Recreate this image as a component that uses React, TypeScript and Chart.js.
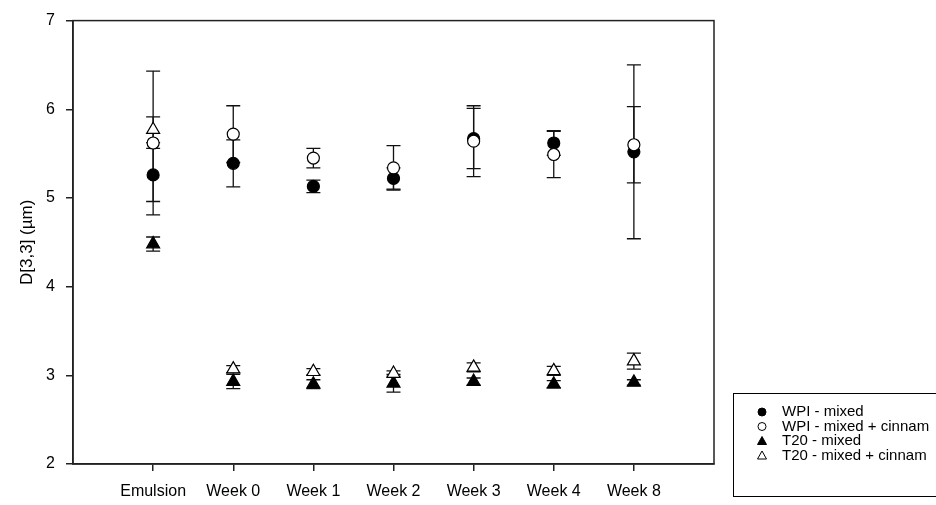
import React, { useEffect, useRef } from "react";
import { Chart, registerables } from "chart.js";

Chart.register(...registerables);

const categories = ["Emulsion", "Week 0", "Week 1", "Week 2", "Week 3", "Week 4", "Week 8"];
const yTicks = [2, 3, 4, 5, 6, 7];

const seriesNames = ["WPI - mixed", "WPI - mixed + cinnam", "T20 - mixed", "T20 - mixed + cinnam"];

const wpiMixed = [5.26, 5.39, 5.13, 5.22, 5.67, 5.62, 5.52];
const wpiMixedErr = [0.3, 0.265, 0.07, 0.12, 0.34, 0.14, 0.98];
const wpiCinnam = [5.62, 5.72, 5.45, 5.34, 5.64, 5.49, 5.6];
const wpiCinnamErr = [0.81, 0.32, 0.11, 0.25, 0.4, 0.26, 0.43];
const t20Mixed = [4.48, 2.93, 2.9, 2.91, 2.93, 2.9, 2.92];
const t20MixedErr = [0.08, 0.08, 0.05, 0.1, 0.04, 0.04, 0.03];
const t20Cinnam = [5.77, 3.07, 3.04, 3.02, 3.09, 3.05, 3.16];
const t20CinnamErr = [0.145, 0.04, 0.035, 0.03, 0.05, 0.05, 0.09];

const FONT = "'Liberation Sans', Arial, Helvetica, sans-serif";

type Spec = { name: string; values: number[]; errs: number[]; style: "circle" | "triangle"; filled: boolean };

const specs: Spec[] = [
  { name: seriesNames[0], values: wpiMixed, errs: wpiMixedErr, style: "circle", filled: true },
  { name: seriesNames[1], values: wpiCinnam, errs: wpiCinnamErr, style: "circle", filled: false },
  { name: seriesNames[2], values: t20Mixed, errs: t20MixedErr, style: "triangle", filled: true },
  { name: seriesNames[3], values: t20Cinnam, errs: t20CinnamErr, style: "triangle", filled: false },
];

const errorBarPlugin = {
  id: "errorBars",
  beforeDatasetsDraw(chart: any) {
    const { ctx, scales } = chart;
    const xs = scales.x;
    const ys = scales.y;
    ctx.save();
    ctx.strokeStyle = "#111";
    ctx.lineWidth = 1.3;
    specs.forEach((s) => {
      s.values.forEach((v, i) => {
        const e = s.errs[i];
        const px = xs.getPixelForValue(i + 1);
        const top = ys.getPixelForValue(v + e);
        const bot = ys.getPixelForValue(v - e);
        ctx.beginPath();
        ctx.moveTo(px, top);
        ctx.lineTo(px, bot);
        ctx.moveTo(px - 7, top);
        ctx.lineTo(px + 7, top);
        ctx.moveTo(px - 7, bot);
        ctx.lineTo(px + 7, bot);
        ctx.stroke();
      });
    });
    ctx.restore();
  },
  afterDraw(chart: any) {
    const { ctx, chartArea } = chart;
    ctx.save();
    ctx.strokeStyle = "#222";
    ctx.lineWidth = 1.5;
    ctx.strokeRect(chartArea.left, chartArea.top, chartArea.right - chartArea.left, chartArea.bottom - chartArea.top);
    ctx.lineWidth = 1;
    ctx.strokeStyle = "#000";
    ctx.strokeRect(733.5, 393.5, 220, 103);
    ctx.font = `15px ${FONT}`;
    ctx.textBaseline = "middle";
    ctx.textAlign = "left";
    specs.forEach((s, i) => {
      const y = 412 + i * 14.5;
      const x = 762;
      ctx.beginPath();
      if (s.style === "circle") {
        ctx.arc(x, y, 4, 0, Math.PI * 2);
      } else {
        ctx.moveTo(x, y - 4.5);
        ctx.lineTo(x + 4.5, y + 3.5);
        ctx.lineTo(x - 4.5, y + 3.5);
        ctx.closePath();
      }
      ctx.fillStyle = s.filled ? "#000" : "#fff";
      ctx.fill();
      ctx.lineWidth = 1;
      ctx.strokeStyle = "#000";
      ctx.stroke();
      ctx.fillStyle = "#000";
      ctx.fillText(s.name, 782, y);
    });
    ctx.restore();
  },
};

export default function App() {
  const ref = useRef<HTMLCanvasElement | null>(null);
  useEffect(() => {
    if (!ref.current) return;
    const chart = new Chart(ref.current, {
      type: "scatter",
      data: {
        datasets: specs.map((s, k) => ({
          label: s.name,
          order: specs.length - k,
          data: s.values.map((v, i) => ({ x: i + 1, y: v })),
          pointStyle: s.style,
          pointRadius: s.style === "circle" ? 6 : 7.5,
          pointBackgroundColor: s.filled ? "#000" : "#fff",
          pointBorderColor: "#000",
          pointBorderWidth: 1.2,
          showLine: false,
        })),
      },
      options: {
        responsive: false,
        animation: false,
        events: [],
        layout: { padding: { top: 16, right: 222, left: 0, bottom: 0 } },
        plugins: { legend: { display: false }, tooltip: { enabled: false } },
        scales: {
          x: {
            type: "linear",
            min: 0,
            max: 8,
            afterBuildTicks: (scale: any) => {
              scale.ticks = categories.map((_, i) => ({ value: i + 1 }));
            },
            afterFit: (scale: any) => {
              scale.height = 41;
            },
            ticks: {
              callback: (v: any) => categories[Number(v) - 1] ?? "",
              color: "#000",
              font: { family: FONT, size: 16 },
              padding: 11,
              maxRotation: 0,
              autoSkip: false,
            },
            grid: { drawOnChartArea: false, drawTicks: true, tickLength: 7, color: "#222", lineWidth: 1.5 },
            border: { display: true, color: "#222", width: 1.5 },
          },
          y: {
            min: 2,
            max: 7,
            afterBuildTicks: (scale: any) => {
              scale.ticks = yTicks.map((v) => ({ value: v }));
            },
            afterFit: (scale: any) => {
              scale.width = 73;
            },
            ticks: {
              color: "#000",
              font: { family: FONT, size: 16 },
              padding: 11,
            },
            grid: { drawOnChartArea: false, drawTicks: true, tickLength: 7, color: "#222", lineWidth: 1.5 },
            border: { display: true, color: "#222", width: 1.5 },
            title: {
              display: true,
              text: "D[3,3] (µm)",
              color: "#000",
              font: { family: FONT, size: 17 },
              padding: { top: 17, bottom: 0 },
            },
          },
        },
      },
      plugins: [errorBarPlugin],
    });
    return () => chart.destroy();
  }, []);
  return (
    <div style={{ position: "absolute", left: 0, top: 0, width: 936, height: 505, background: "#fff" }}>
      <canvas ref={ref} width={936} height={505} />
    </div>
  );
}
